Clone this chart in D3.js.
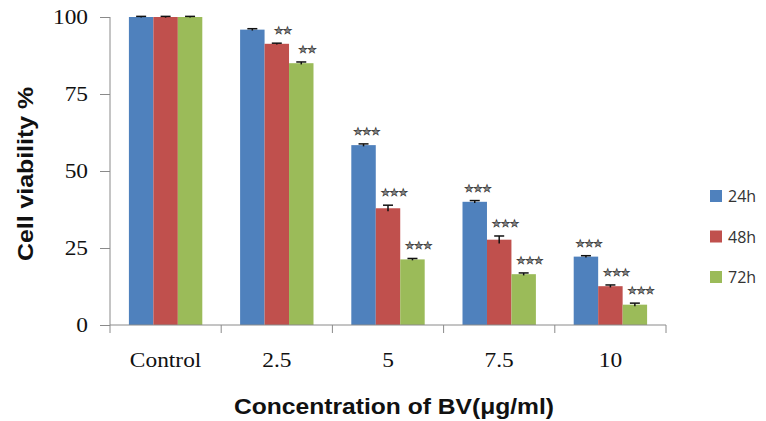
<!DOCTYPE html>
<html><head><meta charset="utf-8">
<script src="https://cdn.jsdelivr.net/npm/d3@7"></script>
<style>body{margin:0;background:#fff}svg{display:block}</style>
</head><body>
<svg id="chart" width="766" height="421"></svg>
<script>
const categories = ["Control", "2.5", "5", "7.5", "10"];
const seriesNames = ["24h", "48h", "72h"];
const values24 = [100, 95.9, 58.4, 40.0, 22.2];
const values48 = [100, 91.3, 37.9, 27.7, 12.6];
const values72 = [100, 85.0, 21.3, 16.5, 6.6];
const errors24 = [0.2, 0.3, 0.4, 0.4, 0.3];
const errors48 = [0.2, 0.2, 1.0, 1.2, 0.4];
const errors72 = [0.2, 0.4, 0.3, 0.4, 0.5];
const stars24 = ["", "", "***", "***", "***"];
const stars48 = ["", "**", "***", "***", "***"];
const stars72 = ["", "**", "***", "***", "***"];
const yTicks = [0, 25, 50, 75, 100];
const colors = ["#4F81BD", "#C0504D", "#9BBB59"];

const series = [
  {name: seriesNames[0], vals: values24, errs: errors24, stars: stars24},
  {name: seriesNames[1], vals: values48, errs: errors48, stars: stars48},
  {name: seriesNames[2], vals: values72, errs: errors72, stars: stars72}
];

const svg = d3.select("#chart");
const mLeft = 110, mRight = 666, mTop = 17, mBottom = 325;
const stretch = 1.17;

const x = d3.scaleBand().domain(categories).range([mLeft, mRight]).paddingInner(0.34).paddingOuter(0.17);
const xs = d3.scaleBand().domain(seriesNames).range([0, x.bandwidth()]);
const y = d3.scaleLinear().domain([0, 100]).range([mBottom, mTop]);

// bars
const groups = svg.append("g").selectAll("g").data(series).join("g")
  .attr("fill", (d, i) => colors[i]);
groups.selectAll("rect").data(s => s.vals.map((v, j) => ({v, c: categories[j], s: s.name})))
  .join("rect")
  .attr("x", d => x(d.c) + xs(d.s))
  .attr("y", d => y(d.v))
  .attr("width", xs.bandwidth())
  .attr("height", d => y(0) - y(d.v));

// error bars
const eb = svg.append("g").attr("stroke", "#111").attr("stroke-width", 1.5);
series.forEach(s => {
  s.vals.forEach((v, j) => {
    const cx = x(categories[j]) + xs(s.name) + xs.bandwidth() / 2;
    const e = s.errs[j];
    eb.append("line").attr("x1", cx).attr("x2", cx).attr("y1", y(v - e)).attr("y2", y(v + e));
    eb.append("line").attr("x1", cx - 5).attr("x2", cx + 5).attr("y1", y(v + e)).attr("y2", y(v + e));
  });
});

// significance stars
const st = svg.append("g");
series.forEach((s, i) => {
  s.vals.forEach((v, j) => {
    const lab = s.stars[j];
    if (!lab) return;
    const cx = x(categories[j]) + xs(s.name) + xs.bandwidth() / 2 + (i === 0 ? 3 : 6);
    st.append("text")
      .attr("x", cx).attr("y", y(v + s.errs[j]) - 9)
      .attr("text-anchor", "middle")
      .attr("font-family", "DejaVu Sans")
      .attr("font-size", 10.5)
      .attr("fill", "#8c8c8c").attr("stroke", "#3a3a3a").attr("stroke-width", 0.6)
      .attr("letter-spacing", -0.5)
      .text(lab.replace(/\*/g, "\u2605"));
  });
});

// axes
const axisColor = "#8a8a8a";
const yAxis = svg.append("g").attr("transform", `translate(${mLeft},0)`)
  .call(d3.axisLeft(y).tickValues(yTicks).tickSize(10).tickPadding(12).tickFormat(d3.format("d")));
yAxis.select(".domain").attr("stroke", axisColor).attr("d", `M0,${mTop}V${mBottom}`);
yAxis.selectAll(".tick line").attr("stroke", axisColor);
yAxis.selectAll("text").attr("font-family", "Liberation Serif").attr("font-size", 20).attr("fill", "#111")
  .attr("x", -22 / stretch).attr("transform", `scale(${stretch},1)`);

const xAxis = svg.append("g").attr("transform", `translate(0,${mBottom})`)
  .call(d3.axisBottom(x).tickSize(0).tickPadding(27.5));
xAxis.select(".domain").attr("stroke", axisColor).attr("d", `M${mLeft},0H${mRight}`);
xAxis.selectAll("text").attr("font-family", "Liberation Serif").attr("font-size", 20).attr("fill", "#111")
  .attr("transform", `scale(${stretch},1)`);
// category boundary ticks
const bounds = categories.map(c => x(c) - x.step() * x.paddingInner() / 2).concat([mRight]);
svg.append("g").selectAll("line").data(bounds).join("line")
  .attr("x1", d => d).attr("x2", d => d).attr("y1", mBottom).attr("y2", mBottom + 8)
  .attr("stroke", axisColor);

// titles
svg.append("text").attr("x", 394).attr("y", 414)
  .attr("text-anchor", "middle").attr("font-family", "Liberation Sans").attr("font-weight", "bold")
  .attr("font-size", 22).attr("fill", "#111")
  .attr("textLength", 320).attr("lengthAdjust", "spacingAndGlyphs")
  .text("Concentration of BV(μg/ml)");
svg.append("text").attr("transform", "translate(33,174) rotate(-90)")
  .attr("text-anchor", "middle").attr("font-family", "Liberation Sans").attr("font-weight", "bold")
  .attr("font-size", 22).attr("fill", "#111")
  .attr("textLength", 174).attr("lengthAdjust", "spacingAndGlyphs")
  .text("Cell viability %");

// legend
const lg = svg.append("g").attr("transform", "translate(710,196)");
seriesNames.forEach((n, i) => {
  const g = lg.append("g").attr("transform", `translate(0,${i * 40.5})`);
  g.append("rect").attr("x", 0).attr("y", -6).attr("width", 12).attr("height", 12).attr("fill", colors[i]);
  g.append("text").attr("x", 18).attr("y", 6).attr("font-family", "Open Sans").attr("font-size", 16)
    .attr("fill", "#333").text(n);
});
</script>
</body></html>
